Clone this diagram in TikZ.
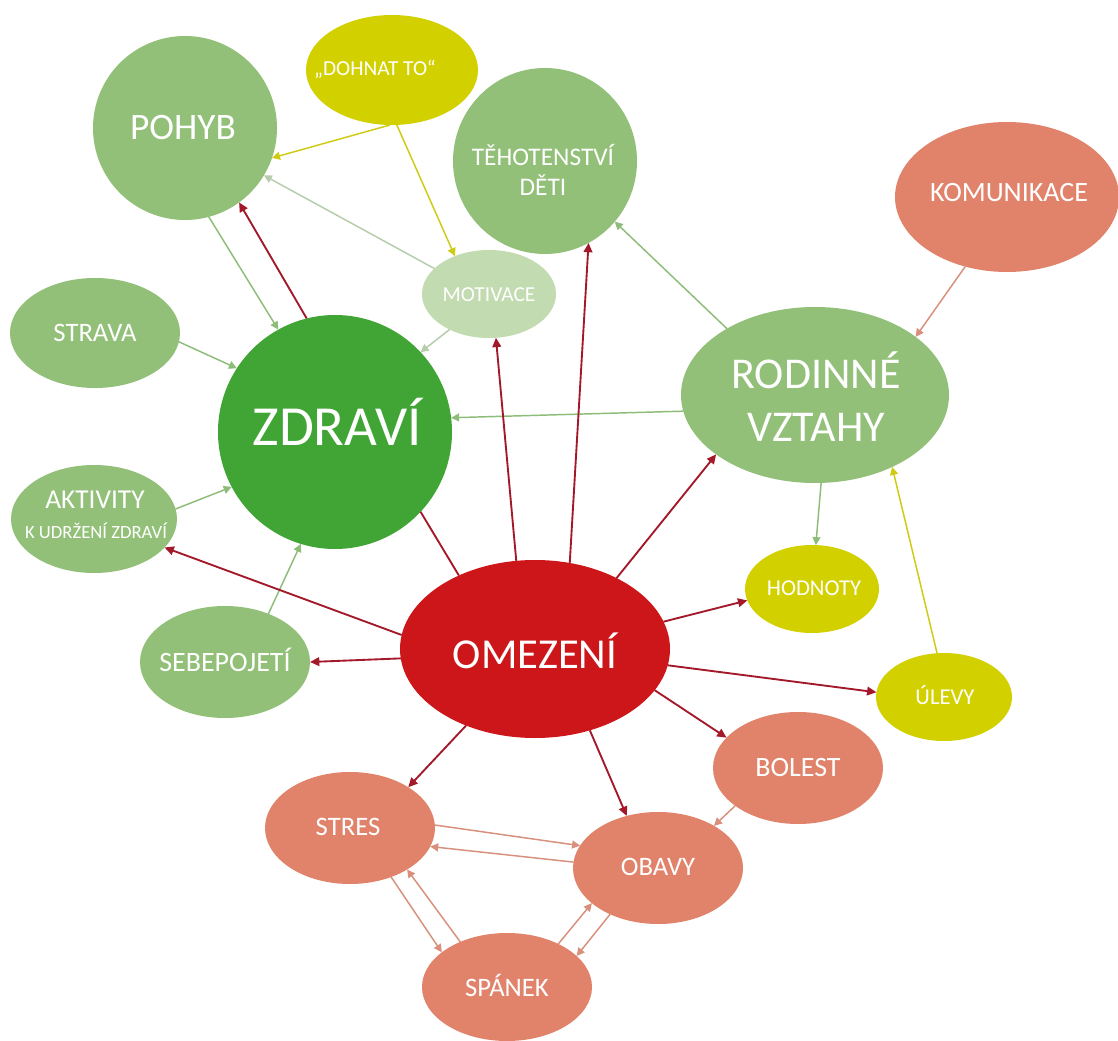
\documentclass[tikz,border=0pt]{standalone}
\usepackage{fontspec}
\setmainfont{Carlito}
\usetikzlibrary{shapes.geometric,arrows.meta}
\definecolor{cgreen}{HTML}{92C078}
\definecolor{cdark}{HTML}{40A535}
\definecolor{cpale}{HTML}{C2DBB0}
\definecolor{cyel}{HTML}{D3D000}
\definecolor{csal}{HTML}{E1836A}
\definecolor{cred}{HTML}{CC161A}
\definecolor{agreen}{HTML}{8DBD79}
\definecolor{apale}{HTML}{B6CDAB}
\definecolor{ayel}{HTML}{CFCB12}
\definecolor{asal}{HTML}{D8907C}
\definecolor{ared}{HTML}{A3192A}
\tikzset{
  ell/.style 2 args={ellipse, draw=none, inner sep=0pt, outer sep=0pt,
    minimum width=#1*1.5pt, minimum height=#2*1.5pt},
  t/.style={text=white, inner sep=0pt, outer sep=0pt, anchor=center,
    font=\fontsize{#1pt}{#1pt}\selectfont, text height=#1*0.635pt, text depth=0pt},
  ga/.style={draw=agreen, line width=1.1pt, -{Triangle[length=6pt,width=6pt]}},
  pa/.style={draw=apale, line width=1.1pt, -{Triangle[length=6pt,width=6pt]}},
  ya/.style={draw=ayel, line width=1.1pt, -{Triangle[length=6pt,width=6pt]}},
  sa/.style={draw=asal, line width=1.1pt, -{Triangle[length=6pt,width=6pt]}},
  ra/.style={draw=ared, line width=1.4pt, -{Triangle[length=7pt,width=6.5pt]}},
  rl/.style={draw=ared, line width=1.4pt},
}
\begin{document}
\begin{tikzpicture}[x=0.75pt,y=-0.75pt]
\useasboundingbox (0,0) rectangle (1118,1041);
\fill[white] (0,0) rectangle (1118,1041);
% shapes
\node[ell={92}{92}, fill=cgreen] (pohyb) at (185,128) {};
\node[ell={86}{55}, fill=cyel] (dohnat) at (392,70) {};
\node[ell={92}{93}, fill=cgreen] (tehot) at (545,161) {};
\node[ell={112}{75}, fill=csal] (komun) at (1007,197) {};
\node[ell={67}{44}, fill=cpale] (motiv) at (489,294) {};
\node[ell={85}{55}, fill=cgreen] (strava) at (95,333) {};
\node[ell={117}{117}, fill=cdark] (zdravi) at (335,432) {};
\node[ell={134}{88}, fill=cgreen] (rodin) at (815,395) {};
\node[ell={83}{54}, fill=cgreen] (aktiv) at (94,519) {};
\node[ell={85}{56}, fill=cgreen] (sebep) at (225,662) {};
\node[ell={135}{89}, fill=cred] (omez) at (535,649) {};
\node[ell={67}{44}, fill=cyel] (hodn) at (812,589) {};
\node[ell={68}{44}, fill=cyel] (ulevy) at (944,697) {};
\node[ell={85}{56}, fill=csal] (bolest) at (798,768) {};
\node[ell={85}{56}, fill=csal] (stres) at (350,828) {};
\node[ell={85}{56}, fill=csal] (obavy) at (658,868) {};
\node[ell={85}{54}, fill=csal] (spanek) at (507,987) {};
% texts
\node[t=28] (pohybT) at (183,128) {POHYB};
\node[t=16] (dohnatT) at (375,69) {„DOHNAT TO“};
\node[t=19] (tehotT1) at (543,157) {TĚHOTENSTVÍ};
\node[t=19] (tehotT2) at (543,187) {DĚTI};
\node[t=21] (komunT) at (1009,193) {KOMUNIKACE};
\node[t=16] (motivT) at (489,295) {MOTIVACE};
\node[t=20] (stravaT) at (95,333) {STRAVA};
\node[t=42.5] (zdraviT) at (337,428) {ZDRAVÍ};
\node[t=33] (rodinT1) at (816,375) {RODINNÉ};
\node[t=33] (rodinT2) at (816,428) {VZTAHY};
\node[t=20.5] (aktivT1) at (95,500) {AKTIVITY};
\node[t=14] (aktivT2) at (96,533) {K UDRŽENÍ ZDRAVÍ};
\node[t=21] (sebepT) at (225,663) {SEBEPOJETÍ};
\node[t=32] (omezT) at (535,655) {OMEZENÍ};
\node[t=17] (hodnT) at (814,588) {HODNOTY};
\node[t=17] (ulevyT) at (945,697) {ÚLEVY};
\node[t=21] (bolestT) at (798,768) {BOLEST};
\node[t=20] (stresT) at (348,827) {STRES};
\node[t=20] (obavyT) at (658,867) {OBAVY};
\node[t=20] (spanekT) at (507,988) {SPÁNEK};
% green connectors
\draw[ga] (pohyb.-75.7) -- (zdravi.119.1);
\draw[ga] (strava.-6.7) -- (zdravi.147.4);
\draw[ga] (aktiv.7.9) -- (zdravi.-152);
\draw[ga] (sebep.48.7) -- (zdravi.-107.2);
\draw[ga] (rodin.-173.6) -- (zdravi.7.1);
\draw[ga] (rodin.143.9) -- (tehot.-41.1);
\draw[ga] (rodin.-86.2) -- (hodn.85.5);
% pale connectors
\draw[pa] (motiv.155) -- (pohyb.-31.4);
\draw[pa] (motiv.-138.5) -- (zdravi.43);
% yellow connectors
\draw[ya] (dohnat.-92) -- (pohyb.-19);
\draw[ya] (dohnat.-85.8) -- (motiv.132.7);
\draw[ya] (ulevy.99) -- (rodin.-43.5);
% salmon connectors
\draw[sa] (komun.-121.2) -- (rodin.30);
\draw[sa] (bolest.-149) -- (obavy.37.8);
\draw[sa] (stres.2.7) -- (obavy.164);
\draw[sa] (obavy.176.6) -- (stres.-13.9);
\draw[sa] (stres.-50.6) -- (spanek.152.7);
\draw[sa] (spanek.136.1) -- (stres.-36.9);
\draw[sa] (spanek.40.3) -- (obavy.-152.4);
\draw[sa] (obavy.-136.8) -- (spanek.24.3);
% red connectors
\draw[ra] (zdravi.104.6) -- (pohyb.-54.5);
\draw[ra] (omez.102.7) -- (motiv.-81.7);
\draw[ra] (omez.68.1) -- (tehot.-62.6);
\draw[ra] (omez.41.6) -- (rodin.-149.5);
\draw[rl] (omez.136.5) -- (zdravi.-43.6);
\draw[ra] (omez.174) -- (aktiv.-22.7);
\draw[ra] (omez.-176.6) -- (sebep.-0.7);
\draw[ra] (omez.12.6) -- (hodn.-170.5);
\draw[ra] (omez.-7.7) -- (ulevy.176);
\draw[ra] (omez.-19.7) -- (bolest.157);
\draw[ra] (omez.-132.7) -- (stres.35.3);
\draw[ra] (omez.-56) -- (obavy.121);
\end{tikzpicture}
\end{document}
